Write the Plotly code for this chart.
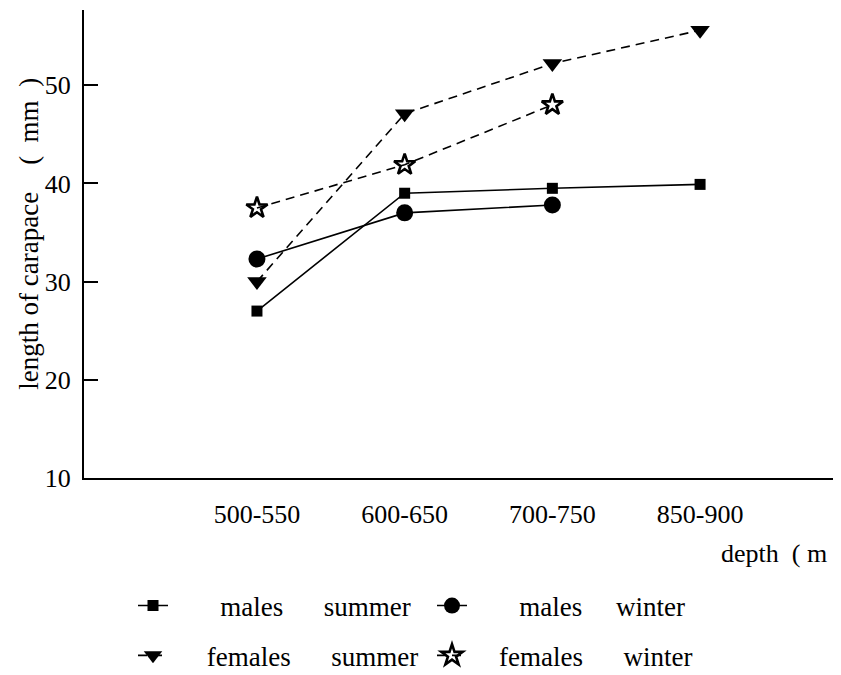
import plotly.graph_objects as go

depth_labels = ["500-550", "600-650", "700-750", "850-900"]
depth_pos = [0, 1, 2, 3]

males_summer = [27.0, 39.0, 39.5, 39.9]
males_winter = [32.3, 37.0, 37.8]
females_summer = [30.0, 47.1, 52.2, 55.6]
females_winter = [37.5, 41.9, 48.0]

y_ticks = [10, 20, 30, 40, 50]

FONT = "Liberation Serif"
NB = "\u00a0"

fig = go.Figure()

fig.add_trace(go.Scatter(
    x=depth_pos, y=males_summer, mode="lines+markers",
    name=NB * 7 + "males" + NB * 6 + "summer",
    line=dict(color="black", width=1.6),
    marker=dict(symbol="square", size=11, color="black"),
    legend="legend",
))
fig.add_trace(go.Scatter(
    x=depth_pos[:3], y=males_winter, mode="lines+markers",
    name=NB * 7 + "males" + NB * 5 + "winter",
    line=dict(color="black", width=1.6),
    marker=dict(symbol="circle", size=17, color="black"),
    legend="legend",
))
fig.add_trace(go.Scatter(
    x=depth_pos, y=females_summer, mode="lines+markers",
    name=NB * 5 + "females" + NB * 6 + "summer",
    line=dict(color="black", width=1.6, dash="9px,6px"),
    marker=dict(symbol="triangle-down", size=17, color="black"),
    legend="legend2",
))
fig.add_trace(go.Scatter(
    x=depth_pos[:3], y=females_winter, mode="lines+markers",
    name=NB * 4 + "females" + NB * 6 + "winter",
    line=dict(color="black", width=1.6, dash="9px,6px"),
    marker=dict(symbol="star-open", size=16, color="black",
                line=dict(color="black", width=2.6)),
    legend="legend2",
))

L, R, T, B = 76, 3, 2, 194
W, H = 841, 675
pw, ph = W - L - R, H - T - B

def px_x(p):
    return (p - L) / pw

def px_y(p):
    return (H - B - p) / ph

fig.update_layout(
    width=W, height=H,
    margin=dict(l=L, r=R, t=T, b=B, pad=0),
    paper_bgcolor="white", plot_bgcolor="white",
    font=dict(family=FONT, size=26, color="black"),
    showlegend=True,
    legend=dict(
        orientation="h", x=px_x(125), y=px_y(612), xanchor="left", yanchor="middle",
        entrywidth=254, entrywidthmode="pixels",
        font=dict(family=FONT, size=27, color="black"),
        bgcolor="rgba(0,0,0,0)", borderwidth=0, tracegroupgap=0,
    ),
    legend2=dict(
        orientation="h", x=px_x(125), y=px_y(663), xanchor="left", yanchor="middle",
        entrywidth=254, entrywidthmode="pixels",
        font=dict(family=FONT, size=27, color="black"),
        bgcolor="rgba(0,0,0,0)", borderwidth=0, tracegroupgap=0,
    ),
    xaxis=dict(
        range=[-1.171, 3.988], tickmode="array", tickvals=depth_pos, ticktext=depth_labels,
        showgrid=False, zeroline=False, showline=True, linecolor="black", linewidth=2,
        ticks="", ticklabelstandoff=12, tickfont=dict(family=FONT, size=26),
    ),
    yaxis=dict(
        range=[10, 57.66], tickmode="array", tickvals=y_ticks,
        showgrid=False, zeroline=False, showline=True, linecolor="black", linewidth=2,
        mirror=True, ticks="inside", ticklen=14, tickwidth=1.5, tickcolor="black",
        ticklabelstandoff=6, tickfont=dict(family=FONT, size=26),
    ),
    annotations=[
        dict(text="length of carapace" + NB * 4 + "(" + NB * 2 + "mm" + NB * 2 + ")",
             xref="paper", yref="paper", x=px_x(21), y=px_y(231),
             xanchor="center", yanchor="middle", textangle=-90, showarrow=False,
             font=dict(family=FONT, size=27, color="black")),
        dict(text="depth" + NB * 2 + "(" + NB + "m" + NB + ")",
             xref="paper", yref="paper", x=px_x(836), y=px_y(558),
             xanchor="right", yanchor="middle", showarrow=False,
             font=dict(family=FONT, size=26, color="black")),
    ],
)

fig.write_html("out.html")
